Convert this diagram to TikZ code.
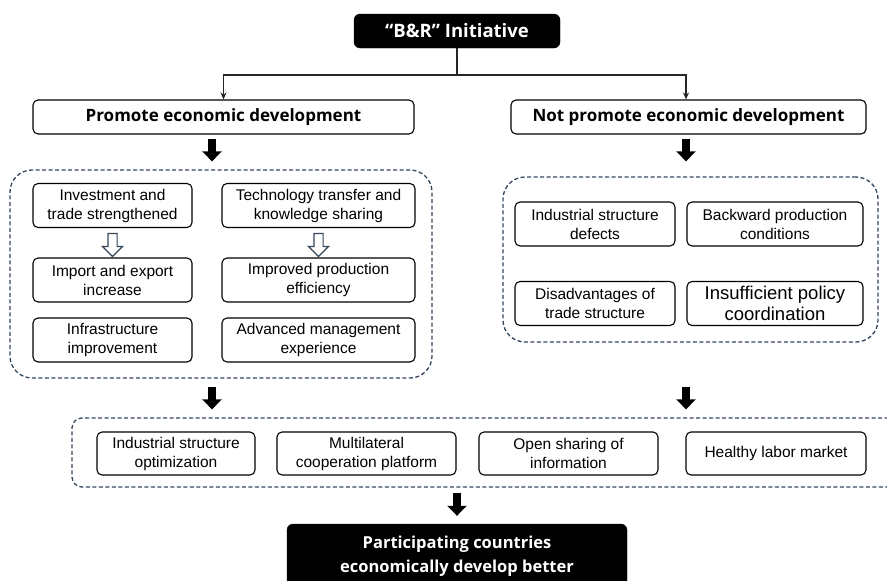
\documentclass[tikz,border=0pt]{standalone}
\usepackage{fontspec}
\setmainfont{Liberation Sans}
\newfontfamily\headfont{Open Sans}
\usetikzlibrary{arrows.meta,shapes.arrows}
\definecolor{slate}{HTML}{34465A}

\begin{document}
\begin{tikzpicture}[x=1pt,y=-1pt]
\tikzstyle{itembox}=[draw,line width=1.1pt,rounded corners=5pt,align=center,inner sep=0pt,font=\fontsize{15.5}{19}\selectfont]
\tikzstyle{hdbox}=[itembox,minimum height=34pt,font=\headfont\bfseries\fontsize{17}{20}\selectfont]
\tikzstyle{darkbox}=[fill=black,draw=black,rounded corners=6pt,text=white,align=center,inner sep=0pt,font=\headfont\bfseries\fontsize{16.5}{24}\selectfont]
\tikzstyle{grpbox}=[draw=slate,dash pattern=on 4pt off 2.5pt,line width=1.3pt,rounded corners=22pt,inner sep=0pt]
\tikzstyle{bigarrow}=[line width=7.5pt,-{Triangle[length=10pt,width=19pt]}]
\tikzstyle{link}=[line width=1.2pt,draw=black!85,-{Stealth[length=7pt,width=6pt]}]
\tikzstyle{hollow}=[single arrow,draw=slate,line width=1.2pt,fill=white,shape border rotate=270,
  minimum height=23pt,inner sep=4pt,single arrow head extend=5.5pt,single arrow head indent=0pt]

\useasboundingbox (0,0) rectangle (887,581);

\path (457,31) node[darkbox,minimum width=206pt,minimum height=34pt,font=\headfont\bfseries\fontsize{18.5}{22}\selectfont] (init) {“B\&R” Initiative};
\path (223.5,117) node[hdbox,minimum width=381pt] (promote) {Promote economic development};
\path (688.5,117) node[hdbox,minimum width=355pt] (notpro) {Not promote economic development};

\coordinate (split) at (457,75);
\draw[line width=1.2pt,draw=black!85] (init) -- (split);
\draw[link] (split) -| (promote);
\draw[link] (split) -| ([xshift=-2.5pt]notpro.north);

\path (221,274) node[grpbox,minimum width=422pt,minimum height=208pt] (leftgrp) {};
\path (690.5,259.5) node[grpbox,minimum width=375pt,minimum height=165pt] (rightgrp) {};
\path (488.5,452.5) node[grpbox,rounded corners=10pt,minimum width=833pt,minimum height=69pt] (bottomgrp) {};

\path (112.5,205.5) node[itembox,minimum width=159pt,minimum height=44pt] (invest) {Investment and\\trade strengthened};
\path (318.5,205.5) node[itembox,minimum width=193pt,minimum height=44pt] (techno) {Technology transfer and\\knowledge sharing};
\path (112.5,280) node[itembox,minimum width=159pt,minimum height=44pt] (import) {Import and export\\increase};
\path (318.5,280) node[itembox,minimum width=193pt,minimum height=44pt] (effic) {Improved production\\efficiency};
\path (112.5,340) node[itembox,minimum width=159pt,minimum height=44pt] (infra) {Infrastructure\\improvement};
\path (318.5,340) node[itembox,minimum width=193pt,minimum height=44pt] (manage) {Advanced management\\experience};

\path (invest) -- node[hollow] {} (import);
\path (techno) -- node[hollow] {} (effic);

\path (595,224) node[itembox,minimum width=160pt,minimum height=44pt] (defect) {Industrial structure\\defects};
\path (775,224) node[itembox,minimum width=176pt,minimum height=44pt] (backward) {Backward production\\conditions};
\path (595,303.5) node[itembox,minimum width=160pt,minimum height=44pt] (disadv) {Disadvantages of\\trade structure};
\path (775,303.5) node[itembox,minimum width=176pt,minimum height=44pt,font=\fontsize{18.5}{21}\selectfont] (policy) {Insufficient policy\\coordination};

\path (176,453.5) node[itembox,minimum width=158pt,minimum height=43pt] (optim) {Industrial structure\\optimization};
\path (366.5,453.5) node[itembox,minimum width=179pt,minimum height=43pt] (platform) {Multilateral\\cooperation platform};
\path (568.5,453.5) node[itembox,minimum width=179pt,minimum height=43pt] (sharing) {Open sharing of\\information};
\path (776,453.5) node[itembox,minimum width=180pt,minimum height=43pt] (labor) {Healthy labor market};

\path (457,556) node[darkbox,minimum width=340pt,minimum height=64pt] (better) {Participating countries\\economically develop better};

\draw[bigarrow,shorten <=4pt,shorten >=8pt] ([xshift=-11.5pt]promote.south) -- ([xshift=-11.5pt]promote.south |- leftgrp.north);
\draw[bigarrow,shorten <=4pt,shorten >=8pt] ([xshift=-2.5pt]notpro.south) -- ([xshift=-2.5pt]notpro.south |- leftgrp.north);
\draw[bigarrow,shorten <=8pt,shorten >=8pt] ([xshift=-9pt]leftgrp.south) -- ([xshift=-9pt]leftgrp.south |- bottomgrp.north);
\draw[bigarrow,shorten <=8pt,shorten >=8pt] ([xshift=-4.5pt]rightgrp.south |- leftgrp.south) -- ([xshift=-4.5pt]rightgrp.south |- bottomgrp.north);
\draw[bigarrow,shorten <=5pt,shorten >=8pt] (better.north |- bottomgrp.south) -- (better.north);
\end{tikzpicture}
\end{document}
